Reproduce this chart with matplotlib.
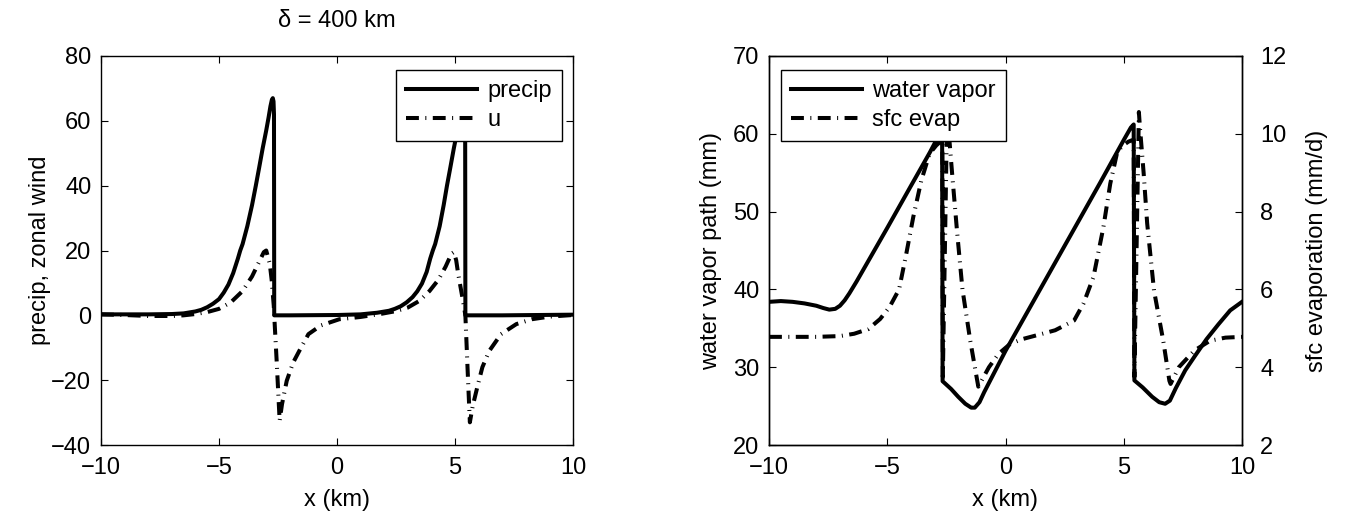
import matplotlib
matplotlib.use('Agg')
import matplotlib.pyplot as plt

plt.rcParams['font.family'] = ['Liberation Sans', 'DejaVu Sans']
plt.rcParams['font.size'] = 17

# left panel: precip and zonal wind
precip_x = [-10, -8, -7, -6.5, -6, -5.75, -5.5, -5.25, -5.0, -4.8, -4.6, -4.4, -4.2, -4.1, -4.0,
            -3.8, -3.6, -3.44, -3.3, -3.15, -3.0, -2.9, -2.82, -2.76, -2.72, -2.69, -2.67, -2.66,
            -2.0, 0, 1.0, 1.7, 2.2, 2.45, 2.7, 2.95, 3.2, 3.4, 3.6, 3.8, 3.95, 4.06, 4.16,
            4.35, 4.52, 4.66, 4.8, 4.95, 5.1, 5.2, 5.28, 5.34, 5.38, 5.41, 5.43, 5.44, 7.0, 10]
precip = [0.3, 0.3, 0.4, 0.6, 1.2, 1.7, 2.5, 3.6, 5.0, 7.0, 9.5, 13, 17.5, 20, 22,
          27.5, 34, 40, 45.5, 51.5, 57, 61, 64.5, 66.5, 67, 66, 62, 0,
          0, 0.1, 0.3, 0.8, 1.4, 2.0, 2.8, 4.0, 5.6, 7.4, 9.8, 13.4, 17.5, 20, 22,
          27.5, 34, 40, 45.5, 51.5, 57, 61, 64.5, 66.5, 67, 66, 62, 0, 0, 0.2]

u_x = [-10, -9, -8, -7, -6.5, -6, -5.5, -5, -4.5, -4, -3.6, -3.3, -3.1, -3.0, -2.85, -2.77,
       -2.68, -2.66, -2.55, -2.43, -2.33, -2.13, -1.86, -1.6, -1.21, -0.68, 0.1, 1.0, 1.9,
       2.5, 3.0, 3.5, 3.92, 4.3, 4.6, 4.85, 4.95, 5.05, 5.13, 5.35, 5.44, 5.53, 5.63, 5.75,
       5.95, 6.16, 6.45, 6.95, 7.6, 8.26, 9.0, 10]
u = [0.3, 0.1, -0.2, -0.2, 0.0, 0.4, 1.0, 2.0, 4.0, 7.5, 12, 16.5, 19.5, 20, 16, 11,
     3, 0, -15, -32.5, -27.4, -20.2, -14.6, -11, -5.8, -3.1, -1.2, -0.5, 0.5,
     1.3, 2.4, 4.5, 7.5, 11, 15, 19, 19.5, 17, 13, 4, 0, -16, -33, -28,
     -22, -16, -11, -5.8, -2.7, -1.2, -0.4, 0.1]

# right panel: water vapor path (left axis) and surface evaporation (right axis)
wv_x = [-10, -9.5, -9, -8.5, -8, -7.7, -7.45, -7.2, -7.0, -6.8, -6.6, -6.3, -5, -4, -3.2,
        -2.8, -2.68, -2.66, -2.3, -2.0, -1.7, -1.45, -1.3, -1.1, -0.9, 0, 2, 4, 5.0, 5.3,
        5.42, 5.45, 5.8, 6.2, 6.5, 6.75, 6.95, 7.2, 7.6, 8.0, 8.5, 9.0, 9.5, 10]
wv = [38.4, 38.5, 38.4, 38.2, 37.9, 37.6, 37.4, 37.5, 37.9, 38.6, 39.5, 41.0, 47.9, 53.3, 57.6,
      59.9, 60.8, 28.2, 27.2, 26.2, 25.3, 24.8, 24.8, 25.5, 26.8, 32.1, 42.9, 53.7, 59.2, 60.8,
      61.2, 28.3, 27.4, 26.2, 25.5, 25.3, 25.7, 27.3, 29.6, 31.4, 33.6, 35.5, 37.3, 38.4]

evap_x = [-10, -8, -7, -6.4, -5.8, -5.3, -4.9, -4.5, -4.2, -3.9, -3.56, -3.21, -2.93, -2.75,
          -2.67, -2.65, -2.47, -2.42, -2.26, -2.05, -1.82, -1.49, -1.22, -1.15, -0.7, -0.3,
          0.2, 0.7, 1.5, 2.1, 2.9, 3.3, 3.72, 4.14, 4.43, 4.71, 4.92, 5.2, 5.42, 5.45, 5.64,
          5.68, 5.84, 5.99, 6.28, 6.67, 6.93, 6.98, 7.33, 7.99, 8.65, 9.3, 10]
evap = [4.78, 4.78, 4.8, 4.86, 4.98, 5.24, 5.55, 6.0, 6.9, 7.86, 8.8, 9.49, 9.7, 9.8,
        9.85, 3.75, 10.5, 10.2, 9.0, 7.5, 6.0, 4.68, 3.74, 3.5, 4.0, 4.34,
        4.6, 4.72, 4.85, 4.95, 5.2, 5.64, 6.32, 7.6, 8.72, 9.49, 9.68, 9.8, 9.85, 3.75, 10.56,
        10.2, 9.0, 7.7, 5.97, 4.68, 3.65, 3.57, 4.0, 4.43, 4.68, 4.76, 4.78]

dashdot = (0, (3.2, 1.6, 0.25, 1.6))
lw = 2.9
fs = 17


def style_axes(ax, **kw):
    ax.tick_params(direction='in', length=5, width=0.8, pad=7, labelsize=fs, **kw)
    ax.tick_params(axis='x', pad=8.5)
    for sp in ax.spines.values():
        sp.set_linewidth(1.0)


def add_legend(ax, handles, labels, loc, anchor):
    ax.legend(handles, labels, loc=loc, bbox_to_anchor=anchor, borderaxespad=0,
              fancybox=False, edgecolor='black', framealpha=1, handlelength=3.0,
              labelspacing=0.3, borderpad=0.42, handletextpad=0.45, fontsize=fs)


fig = plt.figure(figsize=(13.54, 5.15), dpi=100)

# left panel
ax1 = fig.add_axes([101 / 1354, 70 / 515, 472 / 1354, 389 / 515])
p1, = ax1.plot(precip_x, precip, color='black', lw=lw)
p2, = ax1.plot(u_x, u, color='black', lw=lw, linestyle=dashdot, dash_capstyle='butt')
ax1.set_xlim(-10, 10)
ax1.set_ylim(-40, 80)
ax1.set_xticks([-10, -5, 0, 5, 10])
ax1.set_yticks([-40, -20, 0, 20, 40, 60, 80])
ax1.set_xlabel('x (km)', fontsize=fs, labelpad=7)
ax1.set_ylabel('precip, zonal wind', fontsize=fs, labelpad=0.5)
ax1.set_title('\u03b4 = 400 km', fontsize=fs, pad=21)
style_axes(ax1, top=True, right=True)
add_legend(ax1, [p1, p2], ['precip', 'u'], 'upper right', (0.977, 0.964))

# right panel
ax2 = fig.add_axes([769 / 1354, 70 / 515, 473 / 1354, 389 / 515])
ax3 = ax2.twinx()
l1, = ax2.plot(wv_x, wv, color='black', lw=lw)
l2, = ax3.plot(evap_x, evap, color='black', lw=lw, linestyle=dashdot, dash_capstyle='butt')
ax2.set_xlim(-10, 10)
ax2.set_ylim(20, 70)
ax3.set_ylim(2, 12)
ax2.set_xticks([-10, -5, 0, 5, 10])
ax2.set_yticks([20, 30, 40, 50, 60, 70])
ax3.set_yticks([2, 4, 6, 8, 10, 12])
ax2.set_xlabel('x (km)', fontsize=fs, labelpad=7)
ax2.set_ylabel('water vapor path (mm)', fontsize=fs, labelpad=8)
style_axes(ax2, top=True, right=False)
style_axes(ax3)
ax3.tick_params(axis='y', pad=13)
ax3.set_ylabel('sfc evaporation (mm/d)', fontsize=fs, labelpad=14)
add_legend(ax3, [l1, l2], ['water vapor', 'sfc evap'], 'upper left', (0.0254, 0.964))

fig.savefig('out.png', dpi=100)
